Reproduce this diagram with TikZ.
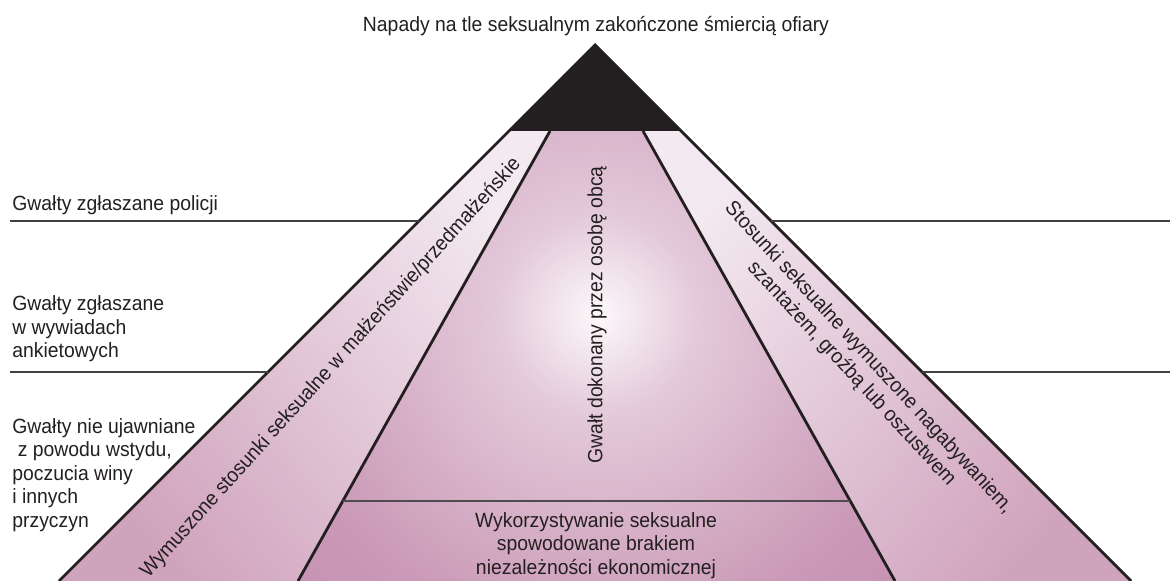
\documentclass[tikz,border=0pt]{standalone}
\usepackage{fontspec}
\setmainfont{Liberation Sans}[FakeStretch=0.94]
\usetikzlibrary{calc}
\usepackage{xcolor}

\definecolor{capblack}{HTML}{231F20}
\definecolor{stripLight}{HTML}{F3E9F0}
\definecolor{stripDark}{HTML}{D0A3BD}
\definecolor{glowCore}{HTML}{FCF8FA}
\definecolor{glowSoft}{HTML}{E3C9D9}
\definecolor{glowMid}{HTML}{CB9AB8}
\definecolor{glowEdge}{HTML}{AE6A93}
\pgfdeclareradialshading{glow}{\pgfpoint{0bp}{0bp}}{color(0bp)=(glowCore); color(6bp)=(glowSoft); color(19bp)=(glowMid); color(50bp)=(glowEdge)}

\begin{document}
\begin{tikzpicture}[x=0.5pt, y=-0.5pt,
        rim/.style={line width=1.4pt, draw=capblack},
        guide/.style={line width=0.65pt, draw=black!75},
        txt/.style={font=\fontsize{10.3}{11.75}\selectfont, text=capblack, inner sep=0pt}]
        \useasboundingbox (0,0) rectangle (1170,581);

        % Pyramid corners
        \coordinate (apex) at (595,45);
        \coordinate (capL) at (509,131);
        \coordinate (capR) at (681,131);
        \coordinate (inL) at (550,131);
        \coordinate (inR) at (643,131);
        \coordinate (baseL) at (59,581);
        \coordinate (baseR) at (1131,581);
        \coordinate (inBL) at (298,581);
        \coordinate (inBR) at (895,581);

        % Side strips
        \shade[top color=stripLight, bottom color=stripDark, shading angle=-50] (capL) -- (inL) -- (inBL) -- (baseL) -- cycle;
        \shade[top color=stripLight, bottom color=stripDark, shading angle=50] (inR) -- (capR) -- (baseR) -- (inBR) -- cycle;

        % Middle band with glow
        \begin{scope}
            \clip (inL) -- (inR) -- (inBR) -- (inBL) -- cycle;
            \shade[shading=glow] (598,315) circle (420);
        \end{scope}

        % Cap
        \fill[capblack] (apex) -- (capR) -- (capL) -- cycle;

        % Rims
        \draw[rim] (baseL) -- (apex) -- (baseR);
        \draw[rim] (inL) -- (inBL);
        \draw[rim] (inR) -- (inBR);

        % Levels
        \draw[guide] (10,221) -- (419,221);
        \draw[guide] (10,372) -- (268,372);
        \draw[guide] (771,221) -- (1170,221);
        \draw[guide] (922,372) -- (1170,372);
        \draw[line width=1pt, draw=capblack!80] (343,501) -- (850,501);

        % Labels (multi-line ones sit on their last baseline)
        \node[txt, anchor=base] (title) at (596,32) {Napady na tle seksualnym zakończone śmiercią ofiary};
        \node[txt, anchor=base west] (police) at (12,211) {Gwałty zgłaszane policji};
        \node[txt, anchor=base west, align=left] (survey) at (12,358) {Gwałty zgłaszane\\w wywiadach\\ankietowych};
        \node[txt, anchor=base west, align=left] (hidden) at (12,527) {Gwałty nie ujawniane\\~z powodu wstydu,\\poczucia winy\\i innych\\przyczyn};
        \node[txt, rotate=90] (stranger) at (597,315) {Gwałt dokonany przez osobę obcą};
        \node[txt, rotate=48] (marital) at (331,368) {Wymuszone stosunki seksualne w małżeństwie/przedmałżeńskie};
        \node[txt, rotate=-47.4, align=center] (coerced) at (860,366) {Stosunki seksualne wymuszone nagabywaniem,\\szantażem, groźbą lub oszustwem};
        \node[txt, anchor=base, align=center] (economic) at (596,574) {Wykorzystywanie seksualne\\spowodowane brakiem\\niezależności ekonomicznej};
\end{tikzpicture}
\end{document}
